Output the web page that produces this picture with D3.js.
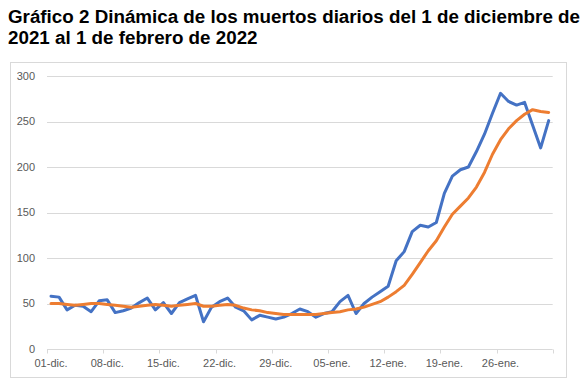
<!DOCTYPE html>
<html><head><meta charset="utf-8">
<script src="https://cdn.jsdelivr.net/npm/d3@7"></script>
<style>
html,body{margin:0;padding:0;background:#fff;}
svg{display:block;}
</style></head>
<body>
<svg id="chart" width="586" height="389"></svg>
<script>
const titleLines = ["Gráfico 2 Dinámica de los muertos diarios del 1 de diciembre de", "2021 al 1 de febrero de 2022"];
const startDate = "2021-12-01";
const dayCount = 63;
const daily = [58,57,43,48,47,41,53,54,40,42,45,51,56,43,51,39,51,55,59,30,46,52,56,46,42,32,37,35,33,35,39,44,41,35,39,41,52,59,39,50,57,63,69,97,107,129,136,134,139,171,190,197,200,217,236,259,281,272,268,271,246,221,251];
const average = [50,50,49,48,49,50,50,49,48,47,46,47,48,49,48,47,48,49,50,47,47,48,49,48,45,43,42,40,39,38,38,38,38,38,39,40,41,43,44,46,49,52,57,63,70,82,95,108,119,134,148,157,166,178,194,214,230,242,251,258,263,261,260];
const yTicks = [0,50,100,150,200,250,300];
const xTickLabels = ["01-dic.","08-dic.","15-dic.","22-dic.","29-dic.","05-ene.","12-ene.","19-ene.","26-ene."];
const labelEvery = 7;

const svg = d3.select("#chart");
svg.append("rect").attr("x",0).attr("y",0).attr("width",586).attr("height",389).attr("fill","#fff");

// title
titleLines.forEach((t,i)=>{
  svg.append("text").attr("x",8).attr("y",[23,44][i])
    .attr("font-family","Liberation Sans, Arial, sans-serif")
    .attr("font-weight","bold").attr("font-size",18.8).attr("fill","#000")
    .text(t);
});

// chart border
svg.append("rect").attr("x",10.5).attr("y",62.5).attr("width",556).attr("height",315)
  .attr("fill","none").attr("stroke","#d9d9d9").attr("stroke-width",1);

const idx = d3.range(dayCount);
const x = d3.scaleBand().domain(idx).range([47, 552.7]).paddingInner(0).paddingOuter(0);
const y = d3.scaleLinear().domain([0,300]).range([349,76]);
const cx = i => x(i) + x.bandwidth()/2;

// gridlines
svg.append("g").selectAll("line").data(yTicks.filter(v=>v>0)).join("line")
  .attr("x1",47).attr("x2",552.7)
  .attr("y1",d=>Math.round(y(d))+0.5).attr("y2",d=>Math.round(y(d))+0.5)
  .attr("stroke","#d9d9d9").attr("stroke-width",1);

// y labels
svg.append("g").selectAll("text").data(yTicks).join("text")
  .attr("x",35).attr("y",d=>y(d)).attr("dy","0.35em").attr("text-anchor","end")
  .attr("font-family","Liberation Sans, Arial, sans-serif").attr("font-size",11).attr("fill","#595959")
  .text(d=>d);

// x axis line
svg.append("line").attr("x1",47).attr("x2",552.7).attr("y1",Math.round(y(0))+0.5).attr("y2",Math.round(y(0))+0.5)
  .attr("stroke","#d9d9d9").attr("stroke-width",1);

// ticks at boundaries
const tickIdx = d3.range(0, dayCount+1, labelEvery);
svg.append("g").selectAll("line").data(tickIdx).join("line")
  .attr("x1",d=> Math.round(d<dayCount ? x(d) : x.range()[1])+0.5)
  .attr("x2",d=> Math.round(d<dayCount ? x(d) : x.range()[1])+0.5)
  .attr("y1",Math.round(y(0))+0.5).attr("y2",Math.round(y(0))+4.5)
  .attr("stroke","#d9d9d9").attr("stroke-width",1);

// x labels
svg.append("g").selectAll("text").data(xTickLabels).join("text")
  .attr("x",(d,i)=>cx(i*labelEvery)).attr("y",367).attr("text-anchor","middle")
  .attr("font-family","Liberation Sans, Arial, sans-serif").attr("font-size",11).attr("fill","#595959")
  .text(d=>d);

// lines
const line = d3.line().x((d,i)=>cx(i)).y(d=>y(d));
svg.append("path").datum(daily).attr("d",line).attr("fill","none")
  .attr("stroke","#4472C4").attr("stroke-width",3).attr("stroke-linejoin","round").attr("stroke-linecap","round");
svg.append("path").datum(average).attr("d",line).attr("fill","none")
  .attr("stroke","#ED7D31").attr("stroke-width",3).attr("stroke-linejoin","round").attr("stroke-linecap","round");
</script>
</body></html>
